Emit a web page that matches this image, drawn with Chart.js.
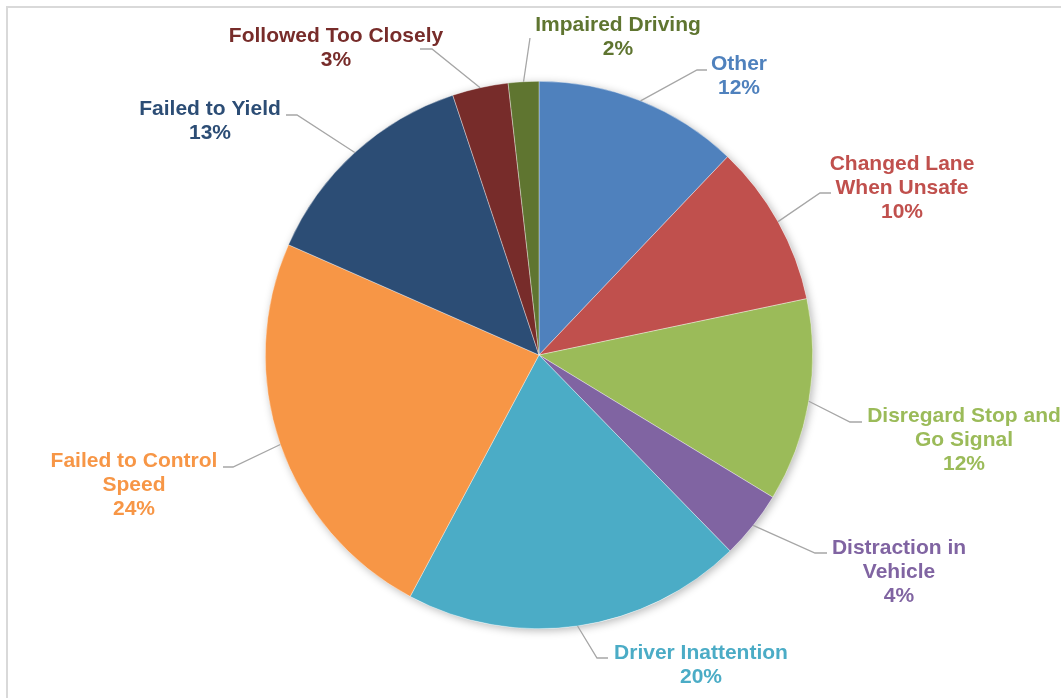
<!DOCTYPE html>
<html>
<head>
<meta charset="utf-8">
<script src="https://cdn.jsdelivr.net/npm/chart.js@4.4.0/dist/chart.umd.min.js"></script>
<style>
  html, body { margin: 0; padding: 0; background: #ffffff; overflow: hidden; }
  #wrap { position: relative; width: 1061px; height: 698px; }
  #frame { position: absolute; left: 6px; top: 6px; width: 1100px; height: 720px;
           border-left: 2px solid #d9d9d9; border-top: 2px solid #d9d9d9; box-sizing: border-box; }
  canvas { position: absolute; left: 0; top: 0; }
</style>
</head>
<body>
<div id="wrap">
  <div id="frame"></div>
  <canvas id="c" width="1061" height="698"></canvas>
</div>
<script>
const categories = [
  "Other",
  "Changed Lane When Unsafe",
  "Disregard Stop and Go Signal",
  "Distraction in Vehicle",
  "Driver Inattention",
  "Failed to Control Speed",
  "Failed to Yield",
  "Followed Too Closely",
  "Impaired Driving"
];
const labelLines = [
  ["Other"],
  ["Changed Lane", "When Unsafe"],
  ["Disregard Stop and", "Go Signal"],
  ["Distraction in", "Vehicle"],
  ["Driver Inattention"],
  ["Failed to Control", "Speed"],
  ["Failed to Yield"],
  ["Followed Too Closely"],
  ["Impaired Driving"]
];
const shareValues = [12.1, 9.6, 12.0, 4.0, 20.1, 23.8, 13.3, 3.3, 1.8];
const percentLabels = ["12%", "10%", "12%", "4%", "20%", "24%", "13%", "3%", "2%"];

const sliceColors = ["#4f81bd", "#c0504d", "#9bbb59", "#8064a2", "#4bacc6", "#f79646", "#2c4d75", "#772c2a", "#5f7530"];
const textColors  = ["#4f81bd", "#c0504d", "#9bbb59", "#8064a2", "#4bacc6", "#f79646", "#2c4d75", "#772c2a", "#5f7530"];

// label layout (offsets from pie center): text center of first line, elbow, leader end
const labelLayout = [
  { tx: 200, ty: -292, bx: 158, by: -285, ex: 168, ey: -285 },
  { tx: 363, ty: -192, bx: 281, by: -162, ex: 292, ey: -162 },
  { tx: 425, ty: 60,   bx: 311, by: 67,   ex: 323, ey: 67 },
  { tx: 360, ty: 192,  bx: 276, by: 198,  ex: 288, ey: 198 },
  { tx: 162, ty: 297,  bx: 58,  by: 303,  ex: 69,  ey: 303 },
  { tx: -405, ty: 105, bx: -306, by: 112, ex: -316, ey: 112 },
  { tx: -329, ty: -247, bx: -242, by: -240, ex: -253, ey: -240 },
  { tx: -203, ty: -320, bx: -107, by: -306, ex: -119, ey: -306 },
  { tx: 79,  ty: -331, bx: -9,  by: -317, ex: -9,  ey: -317 }
];

const shadowPlugin = {
  id: 'pieShadow',
  beforeDatasetsDraw(chart) {
    const arc = chart.getDatasetMeta(0).data[0];
    if (!arc) return;
    const ctx = chart.ctx;
    ctx.save();
    ctx.shadowColor = 'rgba(0,0,0,0.28)';
    ctx.shadowBlur = 9;
    ctx.shadowOffsetX = 2;
    ctx.shadowOffsetY = 2;
    ctx.fillStyle = '#ffffff';
    ctx.beginPath();
    ctx.arc(arc.x, arc.y, arc.outerRadius, 0, Math.PI * 2);
    ctx.fill();
    ctx.restore();
  }
};

const labelPlugin = {
  id: 'leaderLabels',
  afterDatasetsDraw(chart) {
    const meta = chart.getDatasetMeta(0);
    const ctx = chart.ctx;
    ctx.save();
    meta.data.forEach((arc, i) => {
      const cx = arc.x, cy = arc.y;
      const mid = (arc.startAngle + arc.endAngle) / 2;
      const sx = cx + Math.cos(mid) * arc.outerRadius;
      const sy = cy + Math.sin(mid) * arc.outerRadius;
      const L = labelLayout[i];
      ctx.strokeStyle = '#a6a6a6';
      ctx.lineWidth = 1.3;
      ctx.beginPath();
      ctx.moveTo(sx, sy);
      ctx.lineTo(cx + L.bx, cy + L.by);
      ctx.lineTo(cx + L.ex, cy + L.ey);
      ctx.stroke();

      ctx.fillStyle = textColors[i];
      ctx.font = 'bold 21px "Liberation Sans", Arial, sans-serif';
      ctx.textAlign = 'center';
      ctx.textBaseline = 'middle';
      const lines = labelLines[i].concat([percentLabels[i]]);
      lines.forEach((t, k) => {
        ctx.fillText(t, cx + L.tx, cy + L.ty + 1 + k * 24);
      });
    });
    ctx.restore();
  }
};

new Chart(document.getElementById('c'), {
  type: 'pie',
  data: {
    labels: categories,
    datasets: [{
      data: shareValues,
      backgroundColor: sliceColors,
      borderColor: 'rgba(255,255,255,0.6)',
      borderWidth: 0.6
    }]
  },
  options: {
    responsive: false,
    animation: false,
    layout: { padding: { left: 265, right: 248, top: 81, bottom: 69 } },
    plugins: {
      legend: { display: false },
      tooltip: { enabled: false }
    }
  },
  plugins: [shadowPlugin, labelPlugin]
});
</script>
</body>
</html>
